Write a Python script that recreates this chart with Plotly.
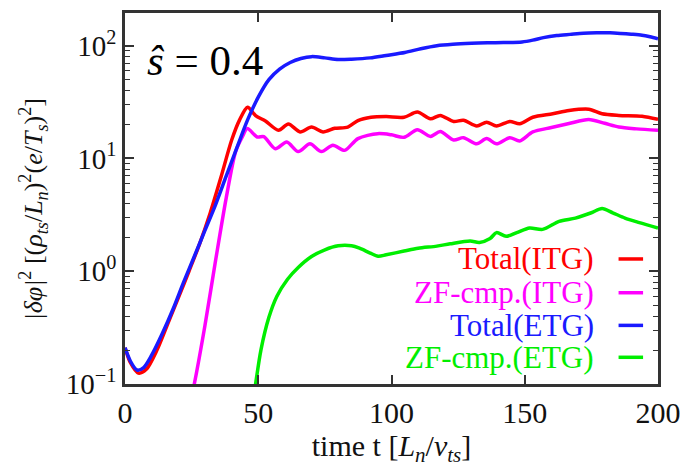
import plotly.graph_objects as go

# ---- data ----
t_total_etg = [0, 2, 4.5, 7, 10, 14, 18, 22, 26, 30, 34, 38, 42, 46, 50, 54, 58, 62, 66, 70, 75, 80,
               85, 92, 98, 105, 111, 117, 123, 130, 136, 142, 149, 153, 157, 162, 167, 172, 177, 182,
               186, 190, 194, 197, 200]
v_total_etg = [0.21, 0.16, 0.133, 0.14, 0.18, 0.28, 0.46, 0.8, 1.35, 2.3, 3.9, 7, 12.5, 22, 35, 50, 62,
               71, 77, 80, 78, 75.5, 76, 78, 82, 87, 94, 100, 103, 105, 106, 106.5, 108, 112, 118, 123,
               126, 129, 130, 130, 128.5, 126.5, 124, 120, 115]

t_total_itg = [0, 2, 5, 8, 12, 16, 20, 24, 28, 32, 36, 40, 43, 46, 49, 52.7, 57.6, 61.3, 65.7, 70,
               74.3, 78.7, 83.6, 87.4, 92.3, 98, 104.7, 109.7, 114.6, 118.3, 123.3, 127, 132, 135.7,
               139.4, 144.4, 148.1, 153, 160.5, 166.6, 174, 179, 185.3, 194, 200]
v_total_itg = [0.21, 0.155, 0.125, 0.135, 0.2, 0.34, 0.58, 1.0, 1.75, 3.3, 6.8, 14.5, 22, 28.5, 24,
               21.5, 17.8, 20.2, 17.2, 19, 17.2, 18.5, 19, 21.7, 23.2, 23.5, 23.2, 25.8, 22.5, 24.1,
               21.3, 21.8, 19.4, 21, 19.4, 21.3, 20.3, 23.2, 24.9, 26.6, 27.3, 24.9, 24.1, 23.7, 22.2]

t_zf_itg = [24.5, 26, 30, 34, 38, 41.5, 44, 45.9, 49.6, 52.1, 56.4, 60.7, 65, 69.4, 73.7, 78, 82.4,
            87.4, 94.8, 100, 104.7, 109.7, 114.6, 118.3, 123.3, 127, 132, 135.7, 139.4, 144.4, 148.1,
            153, 160, 166.6, 174, 180, 185.3, 192, 200]
v_zf_itg = [0.07, 0.1, 0.33, 1.25, 4.5, 11.5, 15.5, 18.4, 15.5, 15.6, 12.2, 14, 11.5, 13.5, 11.5, 13.1,
            11.8, 15, 16.6, 16.2, 15.4, 18, 15.7, 17.3, 14.6, 15.3, 13.5, 15, 13.5, 15.3, 14.3, 17.2,
            18.8, 20.4, 22.2, 20.5, 19, 18.3, 17.8]

t_zf_etg = [48, 49, 51, 54, 57, 61, 65, 70, 75, 80, 85, 88, 92, 95, 98, 104.7, 110, 117, 122, 129.5,
            133, 137, 139.4, 143, 147, 151.8, 156.7, 162.9, 169, 175, 179, 183, 187.6, 193, 200]
v_zf_etg = [0.07, 0.1, 0.2, 0.39, 0.6, 0.85, 1.08, 1.35, 1.55, 1.68, 1.68, 1.6, 1.45, 1.36, 1.4, 1.51,
            1.6, 1.67, 1.75, 1.85, 1.8, 1.95, 2.2, 2.04, 2.2, 2.42, 2.35, 2.77, 2.96, 3.3, 3.6, 3.3,
            2.96, 2.7, 2.42]

series_names = ["Total(ITG)", "ZF-cmp.(ITG)", "Total(ETG)", "ZF-cmp.(ETG)"]
series_colors = ["#ff0000", "#ff00ff", "#1a1aff", "#00ee00"]
series_t = [t_total_itg, t_zf_itg, t_total_etg, t_zf_etg]
series_v = [v_total_itg, v_zf_itg, v_total_etg, v_zf_etg]

x_ticks = [0, 50, 100, 150, 200]
y_ticks = [0.1, 1, 10, 100]
y_ticktext = ["10<sup>\u22121</sup>", "10<sup>0</sup>", "10<sup>1</sup>", "10<sup>2</sup>"]
y_minor = [m * d for d in (0.1, 1, 10, 100) for m in range(2, 10) if m * d < 200]

FONT = "Liberation Serif"
AXCOL = "#333333"
TXT = "#111111"

fig = go.Figure()
for name, col, tt, vv in zip(series_names, series_colors, series_t, series_v):
    fig.add_trace(go.Scatter(x=tt, y=vv, mode="lines", name=name,
                             line=dict(color=col, width=3.5, shape="spline", smoothing=0.8),
                             showlegend=False))

# legend: right-aligned coloured text with a line sample on the right
leg_y = [0.337, 0.246, 0.158, 0.072]
for name, col, yy in zip(series_names, series_colors, leg_y):
    fig.add_annotation(xref="paper", yref="paper", x=0.884, y=yy, text=name, showarrow=False,
                       xanchor="right", yanchor="middle",
                       font=dict(family=FONT, size=31, color=col))
    fig.add_shape(type="line", xref="paper", yref="paper", x0=0.926, x1=0.972, y0=yy, y1=yy,
                  line=dict(color=col, width=3.5))

fig.add_annotation(xref="paper", yref="paper", x=0.037, y=0.872, text="<i>\u015d</i> = 0.4",
                   showarrow=False, xanchor="left", yanchor="middle",
                   font=dict(family=FONT, size=43, color="black"))

# y-axis title as a rotated annotation (placed further left, like the reference)
fig.add_annotation(xref="paper", yref="paper", x=-0.173, y=0.47, textangle=-90,
                   text="<i>|\u03b4\u03c6|</i><sup>2</sup> [(<i>\u03c1<sub>ts</sub></i>/<i>L<sub>n</sub></i>)<sup>2</sup>(<i>e</i>/<i>T<sub>s</sub></i>)<sup>2</sup>]",
                   showarrow=False, xanchor="center", yanchor="middle",
                   font=dict(family=FONT, size=26, color=TXT))

fig.update_layout(
    width=691, height=470,
    margin=dict(l=125, r=28, t=10, b=86),
    paper_bgcolor="white", plot_bgcolor="white",
    font=dict(family=FONT, color=TXT),
)
fig.update_xaxes(
    range=[0, 200], tickvals=x_ticks, ticks="inside", ticklen=9, tickwidth=1.5, tickcolor=AXCOL,
    showline=True, linecolor=AXCOL, linewidth=2.5, mirror="ticks", showgrid=False, zeroline=False,
    tickfont=dict(family=FONT, size=30, color=TXT),
    title=dict(text="time t [<i>L<sub>n</sub></i>/<i>v<sub>ts</sub></i>]",
               font=dict(family=FONT, size=30, color=TXT), standoff=6),
)
fig.update_yaxes(
    type="log", range=[-1, 2.29], tickvals=y_ticks, ticktext=y_ticktext,
    ticks="inside", ticklen=9, tickwidth=1.5, tickcolor=AXCOL,
    showline=True, linecolor=AXCOL, linewidth=2.5, mirror="ticks", showgrid=False, zeroline=False,
    minor=dict(tickvals=y_minor, ticks="inside", ticklen=5, tickwidth=1.2, tickcolor=AXCOL, showgrid=False),
    tickfont=dict(family=FONT, size=29, color=TXT),
)

fig.write_html("out.html")
